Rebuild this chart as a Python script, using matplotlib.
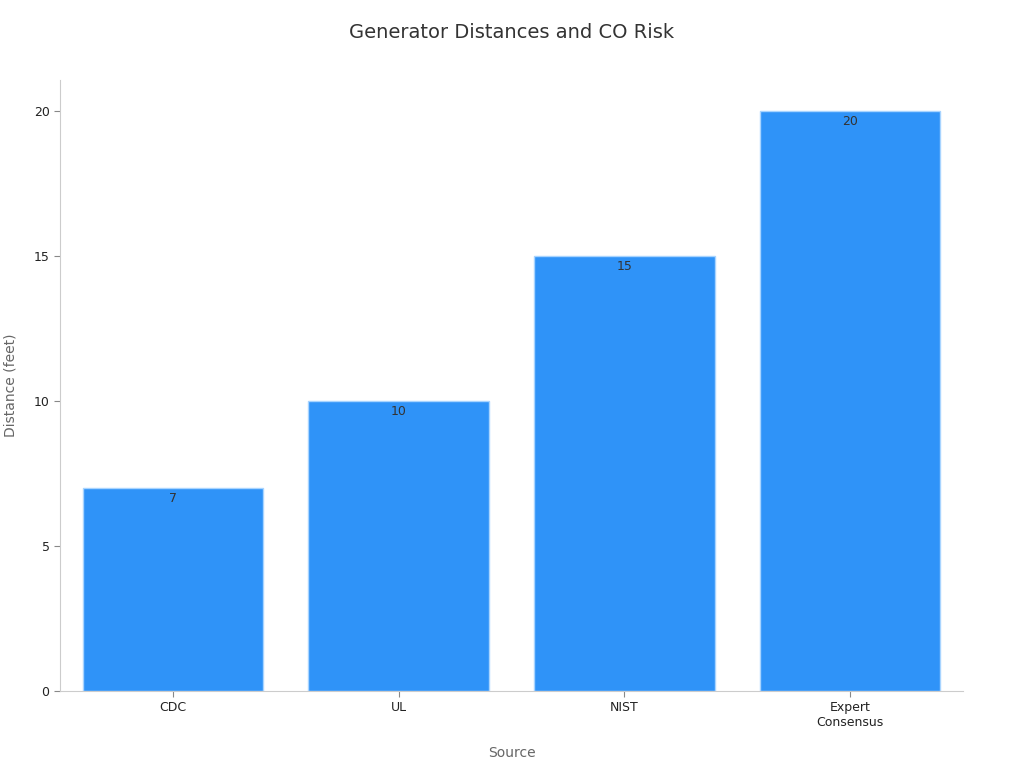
import matplotlib.pyplot as plt

# data
sources = ["CDC", "UL", "NIST", "Expert\nConsensus"]
distances = [7, 10, 15, 20]
yticks = [0, 5, 10, 15, 20]

fig = plt.figure(figsize=(10.24, 7.68), dpi=100)
ax = fig.add_axes([0.0586, 0.1003, 0.8818, 0.7955])

x = range(len(sources))
bars = ax.bar(x, distances, width=0.8, color="#2F93F8", edgecolor="#A8D4FF", linewidth=1)

# value labels just inside top of bars
for xi, v in zip(x, distances):
    ax.annotate(str(v), (xi, v), xytext=(0, -3), textcoords="offset points",
                ha="center", va="top", fontsize=9, color="#333333")

ax.set_xlim(-0.5, 3.5)
ax.set_ylim(0, 21.07)
ax.set_xticks(list(x))
ax.set_xticklabels(sources, fontsize=9, color="#222222")
ax.set_yticks(yticks)
ax.set_yticklabels([str(t) for t in yticks], fontsize=9, color="#222222")
ax.tick_params(colors="#888888", length=4, labelcolor="#222222")

for side in ["top", "right"]:
    ax.spines[side].set_visible(False)
for side in ["left", "bottom"]:
    ax.spines[side].set_color("#cccccc")

ax.set_xlabel("Source", fontsize=10, color="#666666", labelpad=12)
ax.set_ylabel("Distance (feet)", fontsize=10, color="#666666", labelpad=12)
fig.suptitle("Generator Distances and CO Risk", fontsize=14, color="#333333", y=0.97)

fig.savefig("out.png", dpi=100)
